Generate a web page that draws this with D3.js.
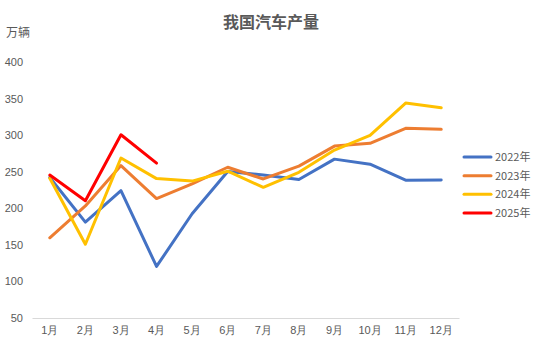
<!DOCTYPE html>
<html>
<head>
<meta charset="utf-8">
<script src="https://cdn.jsdelivr.net/npm/d3@7"></script>
<style>
  html, body { margin: 0; padding: 0; background: #fff; }
  svg { display: block; font-family: "Microsoft YaHei", "Noto Sans CJK SC", sans-serif; }
</style>
</head>
<body>
<svg id="chart" width="544" height="349"></svg>
<script>
// Monthly vehicle output, 万辆
const months = ["1月","2月","3月","4月","5月","6月","7月","8月","9月","10月","11月","12月"];
const seriesNames = ["2022年","2023年","2024年","2025年"];
const colors = ["#4472C4","#ED7D31","#FFC000","#FF0000"];
const v2022 = [242.1, 181.1, 224.1, 120.5, 192.5, 250.3, 245.5, 239.4, 267.2, 260.3, 238.5, 238.6];
const v2023 = [159.7, 203.2, 258.4, 213.3, 233.3, 256.1, 240.1, 257.7, 285.0, 288.8, 309.3, 307.9];
const v2024 = [241.0, 150.9, 268.7, 240.6, 237.2, 250.7, 228.6, 249.2, 279.6, 299.8, 343.9, 337.5];
const v2025 = [245.4, 210.3, 300.6, 261.7];
const yTicks = [50, 100, 150, 200, 250, 300, 350, 400];

const series = [v2022, v2023, v2024, v2025];
const svg = d3.select("#chart");
const textColor = "#595959";

const x = d3.scaleBand().domain(months).range([32, 459]);
const y = d3.scaleLinear().domain([50, 400]).range([318, 62]);

// Title and unit
svg.append("text")
  .attr("x", 271).attr("y", 28)
  .attr("text-anchor", "middle")
  .attr("font-size", 16).attr("font-weight", "bold")
  .attr("fill", textColor)
  .text("我国汽车产量");
svg.append("text")
  .attr("x", 6).attr("y", 37)
  .attr("font-size", 12)
  .attr("fill", textColor)
  .text("万辆");

// Y axis labels
const yAxis = d3.axisLeft(y).tickValues(yTicks).tickSize(0).tickPadding(0);
const gy = svg.append("g").attr("transform", "translate(23,0)").call(yAxis);
gy.select(".domain").remove();
gy.selectAll("text").attr("font-size", 11).attr("fill", textColor)
  .attr("font-family", "inherit");

// X axis (baseline + labels)
const xAxis = d3.axisBottom(x).tickSize(0).tickPadding(8);
const gx = svg.append("g").attr("transform", `translate(0,${y(50)})`).call(xAxis);
gx.select(".domain").attr("stroke", "#D9D9D9").attr("stroke-width", 1);
gx.selectAll("text").attr("font-size", 11).attr("fill", textColor)
  .attr("font-family", "inherit");

// Lines
const line = d3.line()
  .x((d, i) => x(months[i]) + x.bandwidth() / 2)
  .y(d => y(d));

series.forEach((vals, k) => {
  svg.append("path")
    .datum(vals)
    .attr("fill", "none")
    .attr("stroke", colors[k])
    .attr("stroke-width", 3)
    .attr("stroke-linejoin", "round")
    .attr("stroke-linecap", "round")
    .attr("d", line);
});

// Legend
const legendY = d3.scalePoint().domain(seriesNames).range([157, 213]);
const lg = svg.append("g");
seriesNames.forEach((name, k) => {
  const yy = legendY(name);
  lg.append("line")
    .attr("x1", 464).attr("x2", 491)
    .attr("y1", yy).attr("y2", yy)
    .attr("stroke", colors[k]).attr("stroke-width", 3)
    .attr("stroke-linecap", "round");
  lg.append("text")
    .attr("x", 495).attr("y", yy + 4)
    .attr("font-size", 11).attr("fill", textColor)
    .text(name);
});
</script>
</body>
</html>
